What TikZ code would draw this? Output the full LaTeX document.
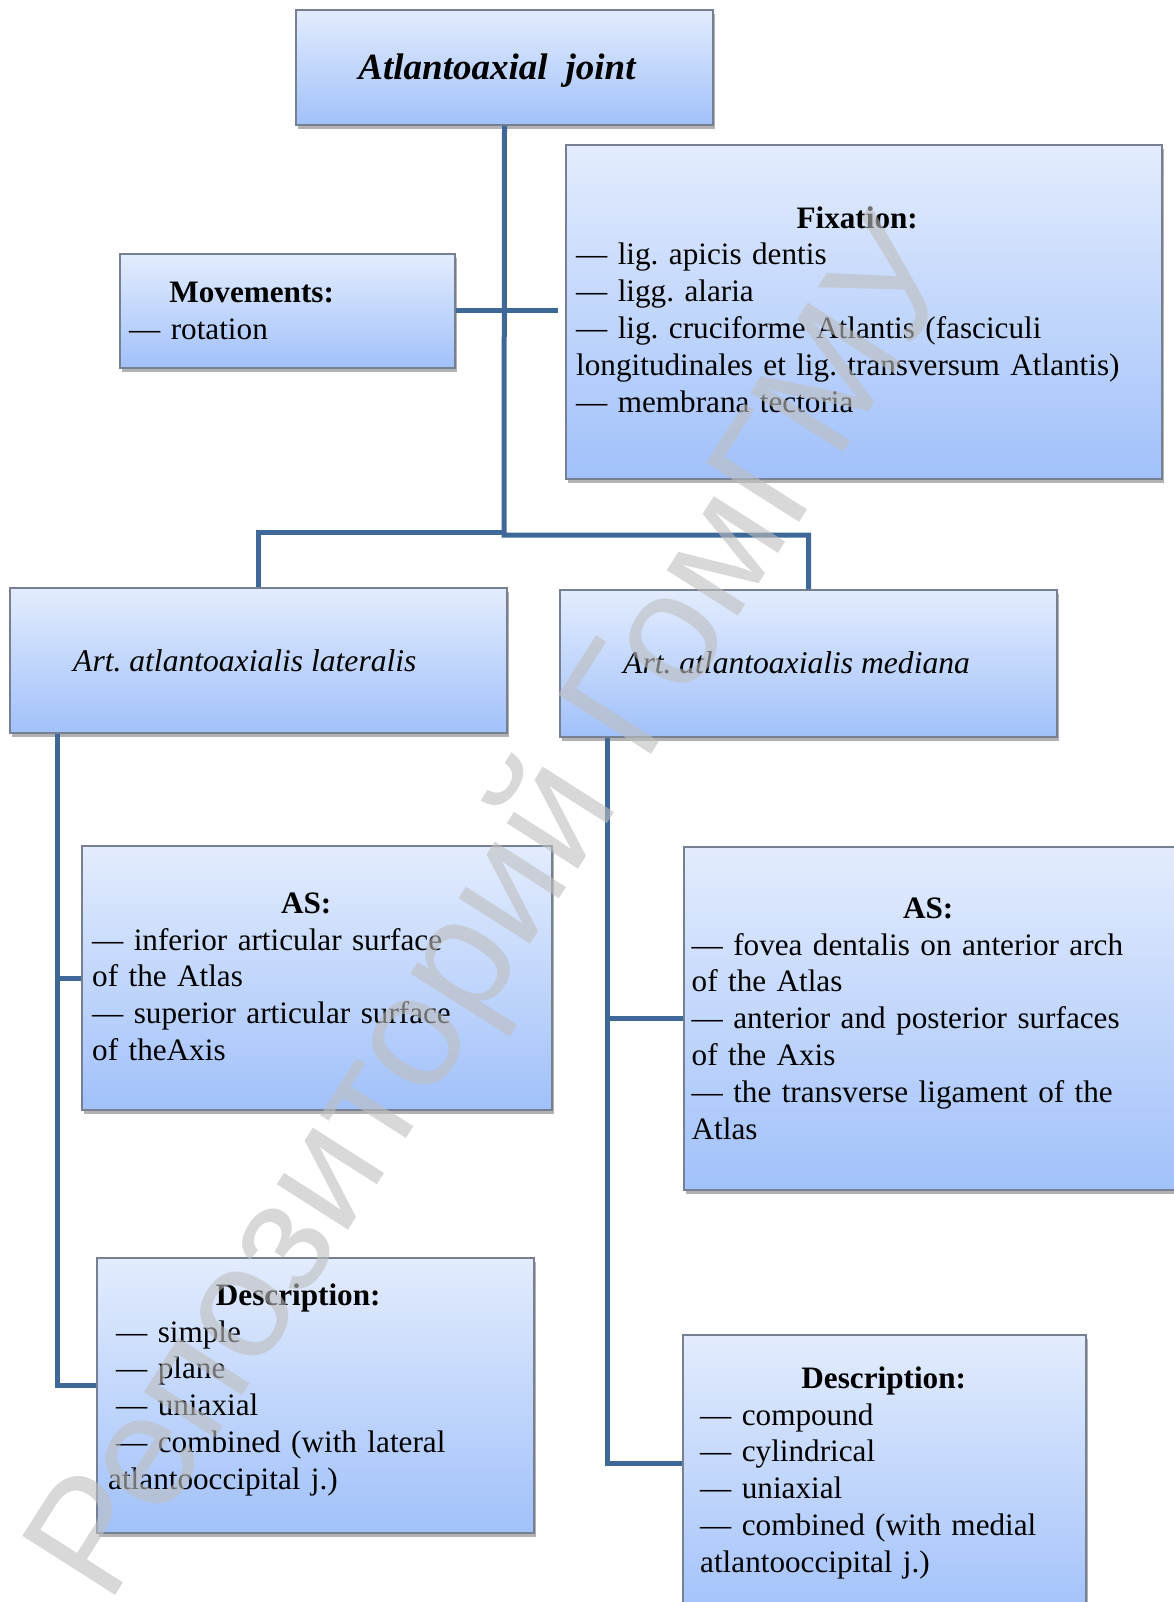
\documentclass[tikz,border=0pt]{standalone}
\usepackage{fontspec}
\setmainfont{Liberation Serif}
\newfontfamily\wmfont{Liberation Sans}
\usetikzlibrary{shadows}
\frenchspacing

\definecolor{linkblue}{RGB}{62,104,152}
\definecolor{boxtop}{RGB}{227,236,253}
\definecolor{boxbottom}{RGB}{161,193,250}
\definecolor{boxedge}{RGB}{118,128,146}
\definecolor{wmgray}{RGB}{190,190,190}

% centred heading line of a given width, with a strut fixing the first baseline
\newcommand{\headline}[2]{\makebox[#1]{\rule{0pt}{25pt}\bfseries #2}}

\begin{document}
\begin{tikzpicture}[x=1pt,y=-1pt,
  box/.style={draw=boxedge, line width=1.3pt, top color=boxtop, bottom color=boxbottom,
    inner sep=0pt, drop shadow={shadow xshift=1.5pt, shadow yshift=-4pt, fill=black, opacity=0.3}},
  conn/.style={draw=linkblue, line width=5pt},
  body/.style={inner sep=0pt, anchor=north west, align=left, text width=640pt,
    font=\fontsize{31.2}{36.8}\selectfont},
  head/.style={anchor=base west, inner sep=0pt, font=\fontsize{31.6}{36.8}\selectfont\itshape},
]
\useasboundingbox (0,0) rectangle (1174,1602);
\clip (0,0) rectangle (1174,1602);

% boxes
\node[box, minimum width=417pt, minimum height=115pt] (top) at (504.5,67.5) {};
\node[box, minimum width=335pt, minimum height=114pt] (move) at (287.5,311) {};
\node[box, minimum width=596pt, minimum height=334pt] (fix) at (864,312) {};
\node[box, minimum width=497pt, minimum height=145pt] (lat) at (258.5,660.5) {};
\node[box, minimum width=497pt, minimum height=147pt] (med) at (808.5,663.5) {};
\node[box, minimum width=470pt, minimum height=264pt] (asl) at (317,978) {};
\node[box, minimum width=501pt, minimum height=343pt] (asr) at (934.5,1018.5) {};
\node[box, minimum width=437pt, minimum height=275pt] (desl) at (315.5,1395.5) {};
\node[box, minimum width=403pt, minimum height=285pt] (desr) at (884.5,1477.5) {};

% connectors
\coordinate (jl) at (504,532);
\coordinate (jr) at (504,535);
\coordinate (fixtap) at (558,311);
\coordinate (lv) at ([xshift=48pt]lat.south west);
\coordinate (rv) at ([xshift=48pt]med.south west);
\draw[conn] (top.south) -- (jr) -| (med.north);
\draw[conn] (jl) -| (lat.north);
\draw[conn] (move.east) -- (fixtap);
\draw[conn] (lv) |- ([yshift=10pt]desl.west);
\draw[conn] (asl.west) -- (asl.west -| lv);
\draw[conn] (rv) |- ([yshift=14.5pt]desr.west);
\draw[conn] (asr.west) -- (asr.west -| rv);

% texts
\node[anchor=base, inner sep=0pt, font=\fontsize{37}{44}\selectfont\bfseries\itshape]
  (toptext) at (497,80) {Atlantoaxial\hspace{18pt}joint};
\node[head] (lattext) at (73,671) {Art. atlantoaxialis lateralis};
\node[head] (medtext) at (623,673) {Art. atlantoaxialis mediana};

\node[body] (movetext) at (129,277)
  {\headline{245pt}{Movements:}\\— rotation};
\node[body] (fixtext) at (576,203)
  {\headline{562pt}{Fixation:}\\
   — lig. apicis dentis\\
   — ligg. alaria\\
   — lig. cruciforme Atlantis (fasciculi\\
   longitudinales et lig. transversum Atlantis)\\
   — membrana tectoria};
\node[body] (asltext) at (92,888)
  {\headline{428pt}{AS:}\\
   — inferior articular surface\\
   of the Atlas\\
   — superior articular surface\\
   of theAxis};
\node[body] (asrtext) at (691.5,893)
  {\headline{473pt}{AS:}\\
   — fovea dentalis on anterior arch\\
   of the Atlas\\
   — anterior and posterior surfaces\\
   of the Axis\\
   — the transverse ligament of the\\
   Atlas};
\node[body] (desltext) at (108,1280)
  {\headline{380pt}{Description:}\\
   \hspace*{8pt}— simple\\
   \hspace*{8pt}— plane\\
   \hspace*{8pt}— uniaxial\\
   \hspace*{8pt}— combined (with lateral\\
   atlantooccipital j.)};
\node[body] (desrtext) at (700,1363)
  {\headline{367pt}{Description:}\\
   — compound\\
   — cylindrical\\
   — uniaxial\\
   — combined (with medial\\
   atlantooccipital j.)};

% repository watermark
\node[rotate=57.5, anchor=base west, inner sep=0pt, text=wmgray, text opacity=0.6,
  font=\wmfont\fontsize{160}{160}\selectfont] (wm) at (108,1607) {Репозиторий ГомГМУ};
\end{tikzpicture}
\end{document}
